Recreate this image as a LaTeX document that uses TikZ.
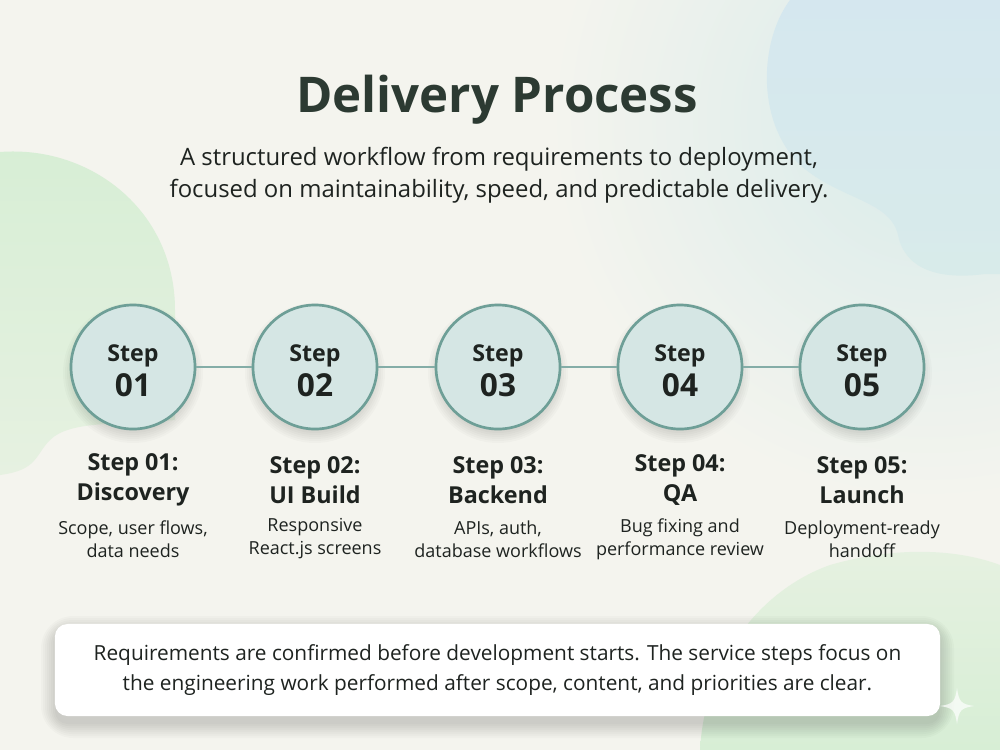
\documentclass[tikz,border=0pt]{standalone}
\usepackage{fontspec}
\setmainfont{Open Sans}
\definecolor{bg}{HTML}{F4F4EE}
\definecolor{greenblob}{HTML}{D7EED5}
\definecolor{greenblobb}{HTML}{E6F1E1}
\definecolor{blueblob}{HTML}{D3E6EE}
\definecolor{blueblobb}{HTML}{D8EBEA}
\definecolor{circfill}{HTML}{D5E6E4}
\definecolor{circline}{HTML}{6E9F97}
\definecolor{titlec}{HTML}{2C3A32}
\definecolor{textc}{HTML}{1E2320}
\tikzset{
  stepcircle/.style={circle, minimum size=3.1cm, inner sep=0pt, fill=circfill, draw=circline, line width=1.9pt},
  softshadow/.style={fill=black, opacity=0.018},
  link/.style={draw=circline!85, line width=1.6pt},
  stepnum/.style={align=center, text=textc, font=\bfseries},
  steptitle/.style={align=center, text=textc, font=\fontsize{16.6}{21.8}\selectfont\bfseries},
  stepdesc/.style={align=center, text=textc, font=\fontsize{12.8}{16.4}\selectfont},
  notebox/.style={rounded corners=9pt, fill=white, minimum width=22.125cm, minimum height=2.3cm},
}
\begin{document}
\begin{tikzpicture}[x=0.025cm, y=-0.025cm]
\useasboundingbox (0,0) rectangle (1000,750);
\begin{scope}
\clip (0,0) rectangle (1000,750);
\fill[bg] (0,0) rectangle (1000,750);
% soft glow top-right
\shade[inner color=blueblobb, outer color=bg] (930,120) circle (380);
% blue blob top right
\shade[top color=blueblob!95!white, bottom color=blueblobb] (790,0) .. controls (760,40) and (755,120) .. (800,165)
  .. controls (840,200) and (890,200) .. (898,235) .. controls (905,270) and (940,280) .. (985,274)
  -- (1000,274) -- (1000,0) -- cycle;
% green blob left
\shade[top color=greenblob, bottom color=greenblobb] (0,152) .. controls (90,145) and (175,210) .. (175,310)
  -- (175,420) .. controls (120,425) and (70,420) .. (50,440) .. controls (35,455) and (38,470) .. (0,475) -- cycle;
% green blob bottom right
\shade[top color=greenblobb, bottom color=greenblob] (700,750) .. controls (705,660) and (760,590) .. (830,565)
  .. controls (900,545) and (960,550) .. (1000,565) -- (1000,750) -- cycle;
\end{scope}

% title
\node[text=titlec, font=\fontsize{35}{40}\selectfont\bfseries] (title) at (497,100) {Delivery Process};
\node[text=textc, align=center, font=\fontsize{17}{22.7}\selectfont] (subtitle) at (499,175)
  {A structured workflow from requirements to deployment,\\focused on maintainability, speed, and predictable delivery.};

% circle shadows
\foreach \x in {133,315,498,680,862}{
  \foreach \s in {0,2,...,12} \fill[softshadow] (\x,373) circle (58+\s);
}
% circles
\node[stepcircle] (c1) at (133,367) {};
\node[stepcircle] (c2) at (315,367) {};
\node[stepcircle] (c3) at (498,367) {};
\node[stepcircle] (c4) at (680,367) {};
\node[stepcircle] (c5) at (862,367) {};
\foreach \a/\b in {c1/c2,c2/c3,c3/c4,c4/c5} \path[link] (\a.east) -- (\b.west);

\foreach \i/\n in {1/01,2/02,3/03,4/04,5/05}{
  \node[stepnum] (s\i) at ([yshift=-0.1cm]c\i.center) {\fontsize{16.5}{20}\selectfont Step\\[3.5pt]\fontsize{22.5}{22}\selectfont \n};
}

% labels
\node[steptitle] (t1) at (133,480) {Step 01:\\Discovery};
\node[steptitle] (t2) at (315,480) {Step 02:\\UI Build};
\node[steptitle] (t3) at (498,480) {Step 03:\\Backend};
\node[steptitle] (t4) at (680,480) {Step 04:\\QA};
\node[steptitle] (t5) at (862,480) {Step 05:\\Launch};

\node[stepdesc] (d1) at (133,539) {Scope, user flows,\\data needs};
\node[stepdesc] (d2) at (315,539) {Responsive\\React.js screens};
\node[stepdesc] (d3) at (498,539) {APIs, auth,\\database workflows};
\node[stepdesc] (d4) at (680,539) {Bug fixing and\\performance review};
\node[stepdesc] (d5) at (862,539) {Deployment-ready\\handoff};

% note box shadow
\foreach \s in {0,2,...,14} \fill[softshadow, rounded corners=9+\s] (55-\s,630-\s) rectangle (940+\s,724+\s);
% note box
\node[notebox] (box) at (497.5,670) {};
\node[text=textc, align=center, font=\fontsize{14.8}{22}\selectfont] (note) at (box.center)
  {Requirements are confirmed before development starts. The service steps focus on\\the engineering work performed after scope, content, and priorities are clear.};

% sparkle
\fill[white, opacity=0.7] (957,688) .. controls (959,702) and (961,704) .. (974,706)
  .. controls (961,708) and (959,710) .. (957,724) .. controls (955,710) and (953,708) .. (940,706)
  .. controls (953,704) and (955,702) .. (957,688) -- cycle;
\end{tikzpicture}
\end{document}
